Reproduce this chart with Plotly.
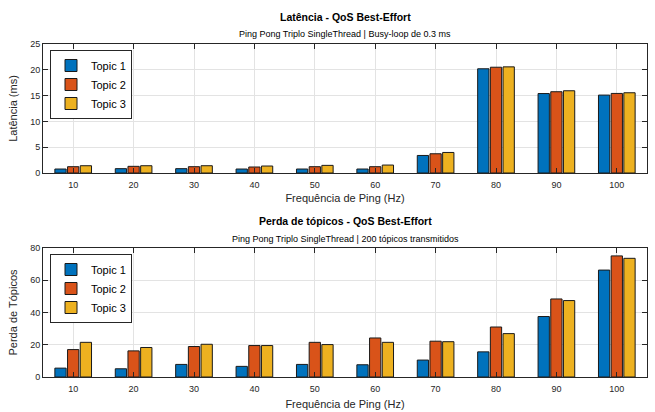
import plotly.graph_objects as go

freq = [10, 20, 30, 40, 50, 60, 70, 80, 90, 100]
series_names = ["Topic 1", "Topic 2", "Topic 3"]

lat_topic1 = [0.77, 0.84, 0.84, 0.77, 0.77, 0.77, 3.4, 20.2, 15.4, 15.1]
lat_topic2 = [1.22, 1.29, 1.22, 1.16, 1.22, 1.22, 3.73, 20.5, 15.75, 15.42]
lat_topic3 = [1.41, 1.41, 1.41, 1.35, 1.48, 1.54, 3.98, 20.57, 15.94, 15.55]

loss_topic1 = [5.5, 5.1, 7.8, 6.6, 7.8, 7.6, 10.5, 15.6, 37.5, 66.3]
loss_topic2 = [17.0, 16.2, 18.9, 19.5, 21.5, 24.2, 22.2, 31.0, 48.4, 75.1]
loss_topic3 = [21.5, 18.3, 20.3, 19.5, 20.1, 21.5, 21.9, 26.9, 47.4, 73.6]

colors = ["#0072BD", "#D95319", "#EDB120"]
FONT = "Liberation Sans, Arial, sans-serif"
W, H = 655, 412
ml, mr, mt, mb = 43, 8, 44, 35
ph = H - mt - mb

def py(px):
    return (H - mb - px) / ph

fig = go.Figure()
for name, vals, c in zip(series_names, [lat_topic1, lat_topic2, lat_topic3], colors):
    fig.add_trace(go.Bar(x=freq, y=vals, name=name, marker=dict(color=c, line=dict(color="#1a1a1a", width=1)),
                         xaxis="x", yaxis="y", legend="legend"))
for name, vals, c in zip(series_names, [loss_topic1, loss_topic2, loss_topic3], colors):
    fig.add_trace(go.Bar(x=freq, y=vals, name=name, marker=dict(color=c, line=dict(color="#1a1a1a", width=1)),
                         xaxis="x2", yaxis="y2", legend="legend2"))

axis_common = dict(showline=True, linecolor="#262626", linewidth=1, mirror="ticks", ticks="inside",
                   ticklen=5, tickcolor="#262626", showgrid=True, gridcolor="#e3e3e3", gridwidth=1,
                   zeroline=False, automargin=False, tickfont=dict(family=FONT, size=9, color="#262626"))

title_font = dict(family=FONT, size=11, color="#262626")
xcommon = dict(axis_common, range=[5, 105], tickvals=freq, ticktext=[str(f) for f in freq],
               ticklabelstandoff=3)
legend_common = dict(x=(50 - ml) / (W - ml - mr), xanchor="left", yanchor="top",
                     bgcolor="white", bordercolor="#262626", borderwidth=1,
                     font=dict(family=FONT, size=11, color="#000000"), tracegroupgap=0)
fig.update_layout(
    width=W, height=H, margin=dict(l=ml, r=mr, t=mt, b=mb, autoexpand=False),
    paper_bgcolor="white", plot_bgcolor="white",
    barmode="group", bargap=0.37, bargroupgap=0.11,
    font=dict(family=FONT, color="#262626"),
    xaxis=dict(xcommon, domain=[0, 1], anchor="y",
               title=dict(text="Frequência de Ping (Hz)", font=title_font, standoff=5)),
    yaxis=dict(axis_common, domain=[py(173), 1], anchor="x", range=[0, 25], tickvals=[0, 5, 10, 15, 20, 25],
               title=dict(text="Latência (ms)", font=title_font, standoff=10)),
    xaxis2=dict(xcommon, domain=[0, 1], anchor="y2",
                title=dict(text="Frequência de Ping (Hz)", font=title_font, standoff=7)),
    yaxis2=dict(axis_common, domain=[0, py(248)], anchor="x2", range=[0, 80], tickvals=[0, 20, 40, 60, 80],
                title=dict(text="Perda de Tópicos", font=title_font, standoff=10)),
    legend=dict(legend_common, y=py(50)),
    legend2=dict(legend_common, y=py(254)),
    annotations=[
        dict(text="<b>Latência - QoS Best-Effort</b>", x=0.5, y=py(16.5), xref="paper", yref="paper",
             yanchor="middle", showarrow=False, font=dict(family=FONT, size=10.5, color="#000000")),
        dict(text="Ping Pong Triplo SingleThread | Busy-loop de 0.3 ms", x=0.5, y=py(34), xref="paper",
             yref="paper", yanchor="middle", showarrow=False, font=dict(family=FONT, size=9, color="#000000")),
        dict(text="<b>Perda de tópicos - QoS Best-Effort</b>", x=0.5, y=py(220.5), xref="paper", yref="paper",
             yanchor="middle", showarrow=False, font=dict(family=FONT, size=10.5, color="#000000")),
        dict(text="Ping Pong Triplo SingleThread | 200 tópicos transmitidos", x=0.5, y=py(239), xref="paper",
             yref="paper", yanchor="middle", showarrow=False, font=dict(family=FONT, size=9, color="#000000")),
    ],
)

fig.write_html("out.html", config={"displayModeBar": False},
               post_script="document.body.style.margin='0';")
